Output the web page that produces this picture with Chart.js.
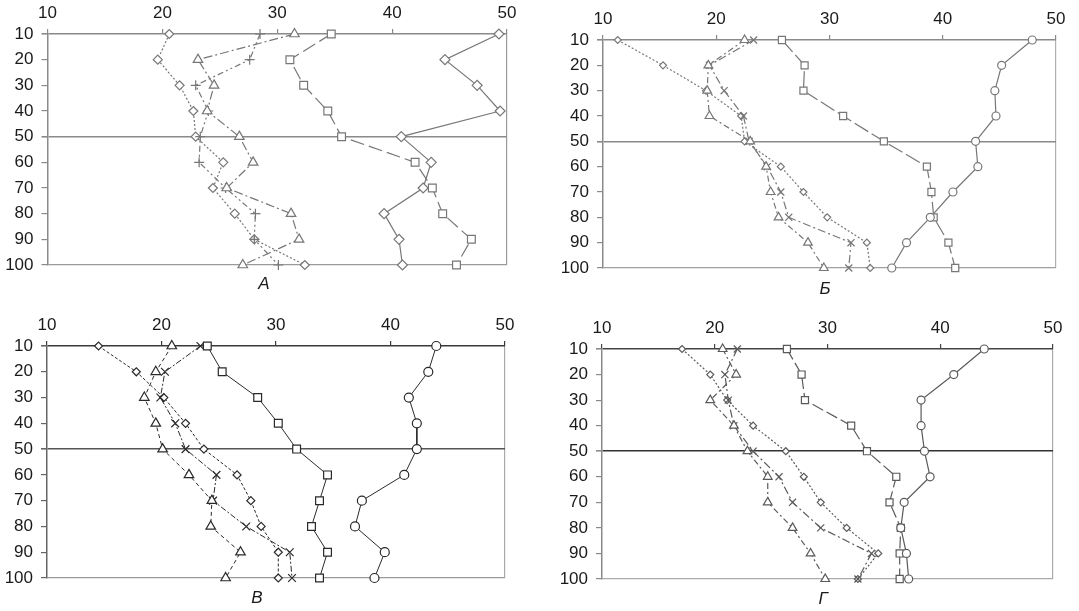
<!DOCTYPE html>
<html>
<head>
<meta charset="utf-8">
<script src="https://cdn.jsdelivr.net/npm/chart.js@4.4.1/dist/chart.umd.min.js"></script>
<style>
    html, body { margin: 0; padding: 0; background: #fff; width: 1079px; height: 611px; overflow: hidden; position: relative; }
    canvas { position: absolute; }
    .letter { position: absolute; width: 40px; text-align: center; line-height: 20px;
              font: italic 17px 'Liberation Sans', Arial, sans-serif; color: #1a1a1a; }
</style>
</head>
<body>
<canvas id="chartA"></canvas>
<canvas id="chartB"></canvas>
<canvas id="chartV"></canvas>
<canvas id="chartG"></canvas>
<script>
// глубина (ось Y, сверху вниз) и подписи оси X
const depths = [10, 20, 30, 40, 50, 60, 70, 80, 90, 100];
const xTicks = [10, 20, 30, 40, 50];

// Панель А
const aSolid    = [49.3, 44.6, 47.4, 49.4, 40.8, 43.4, 42.7, 39.3, 40.6, 40.9];
const aSquare   = [34.7, 31.1, 32.3, 34.4, 35.6, 42.0, 43.5, 44.4, 46.9, 45.6];
const aTriangle = [31.5, 23.1, 24.5, 23.9, 26.7, 27.9, 25.6, 31.2, 31.9, 27.0];
const aCross    = [28.5, 27.6, 22.9, 24.0, 23.3, 23.2, 25.5, 28.1, 28.0, 30.1];
const aDiamond  = [20.6, 19.6, 21.5, 22.7, 22.9, 25.3, 24.4, 26.3, 28.0, 32.4];

// Панель Б
const bSolid    = [47.9, 45.2, 44.6, 44.7, 42.9, 43.1, 40.9, 38.9, 36.8, 35.5];
const bSquare   = [25.8, 27.8, 27.7, 31.2, 34.8, 38.6, 39.0, 39.2, 40.5, 41.1];
const bTriangle = [22.5, 19.3, 19.2, 19.4, 23.0, 24.4, 24.8, 25.5, 28.1, 29.5];
const bCross    = [23.3, 19.4, 20.7, 22.4, 22.9, 24.5, 25.7, 26.4, 31.9, 31.7];
const bDiamond  = [11.3, 15.3, 19.1, 22.2, 22.5, 25.7, 27.7, 29.8, 33.3, 33.6];

// Панель В
const vSolid    = [44.0, 43.3, 41.6, 42.3, 42.3, 41.2, 37.5, 36.9, 39.5, 38.6];
const vSquare   = [24.0, 25.3, 28.4, 30.2, 31.8, 34.5, 33.8, 33.1, 34.5, 33.8];
const vTriangle = [20.9, 19.5, 18.5, 19.5, 20.1, 22.4, 24.4, 24.3, 26.9, 25.6];
const vCross    = [23.4, 20.3, 19.9, 21.2, 22.1, 24.8, 24.5, 27.4, 31.2, 31.4];
const vDiamond  = [14.5, 17.8, 20.2, 22.1, 23.7, 26.6, 27.8, 28.7, 30.2, 30.2];

// Панель Г
const gSolid    = [43.9, 41.2, 38.3, 38.3, 38.6, 39.1, 36.8, 36.5, 37.0, 37.2];
const gSquare   = [26.4, 27.7, 28.0, 32.1, 33.5, 36.1, 35.5, 36.5, 36.4, 36.4];
const gTriangle = [20.7, 21.9, 19.6, 21.7, 22.9, 24.7, 24.7, 26.9, 28.5, 29.8];
const gCross    = [22.0, 20.9, 21.2, 21.7, 23.4, 25.7, 26.9, 29.4, 33.9, 32.7];
const gDiamond  = [17.1, 19.6, 21.1, 23.4, 26.3, 27.9, 29.4, 31.7, 34.5, 32.7];

const FONT = "'Liberation Sans', Arial, sans-serif";
const NONE = 'rgba(0,0,0,0)';

const panels = [
    {
        canvas: 'chartA', letter: 'А', letterAt: [264, 284],
        box: { left: 0, top: 0, width: 540, height: 280 },
        plot: { left: 47.5, right: 507, top: 34, bottom: 265 },
        values: [aSolid, aSquare, aTriangle, aCross, aDiamond],
        markers: ['rectRot', 'rect', 'triangle', 'cross', 'rectRot'],
        radii: [5, 5.5, 5.5, 5, 4.5],
        dashes: [[], [14, 5], [9, 3, 2, 3], [6, 3, 2, 3, 2, 3], [2, 2]],
        ink: '#777777', lineWidth: 1.2,
        frame: { top: '#8a8a8a', mid: '#8a8a8a', bottom: '#9a9a9a', left: '#8a8a8a', right: '#9a9a9a' }
    },
    {
        canvas: 'chartB', letter: 'Б', letterAt: [825, 289],
        box: { left: 540, top: 0, width: 539, height: 284 },
        plot: { left: 603, right: 1056, top: 40, bottom: 268 },
        values: [bSolid, bSquare, bTriangle, bCross, bDiamond],
        markers: ['circle', 'rect', 'triangle', 'crossRot', 'rectRot'],
        radii: [4, 5, 5, 5, 3.5],
        dashes: [[], [16, 4], [6, 3, 2, 3], [8, 3, 2, 3], [2, 2]],
        ink: '#777777', lineWidth: 1.2,
        frame: { top: '#8a8a8a', mid: '#8a8a8a', bottom: '#a0a0a0', left: '#8a8a8a', right: '#b0b0b0' }
    },
    {
        canvas: 'chartV', letter: 'В', letterAt: [257, 598],
        box: { left: 0, top: 300, width: 540, height: 294 },
        plot: { left: 47, right: 505, top: 346, bottom: 578 },
        values: [vSolid, vSquare, vTriangle, vCross, vDiamond],
        markers: ['circle', 'rect', 'triangle', 'crossRot', 'rectRot'],
        radii: [4.5, 5.5, 5.5, 5.5, 4],
        dashes: [[], [], [4, 3], [6, 2, 2, 2], [3, 2]],
        ink: '#2a2a2a', lineWidth: 1,
        frame: { top: '#3a3a3a', mid: '#555555', bottom: '#9a9a9a', left: '#666666', right: '#aaaaaa' }
    },
    {
        canvas: 'chartG', letter: 'Г', letterAt: [823, 599],
        box: { left: 540, top: 300, width: 539, height: 294 },
        plot: { left: 602, right: 1053, top: 349, bottom: 579 },
        values: [gSolid, gSquare, gTriangle, gCross, gDiamond],
        markers: ['circle', 'rect', 'triangle', 'crossRot', 'rectRot'],
        radii: [4, 5, 5, 5, 3.5],
        dashes: [[], [12, 4], [6, 3, 2, 3], [8, 3, 2, 3], [2, 2]],
        ink: '#5a5a5a', lineWidth: 1.2,
        frame: { top: '#444444', mid: '#333333', bottom: '#aaaaaa', left: '#8a8a8a', right: '#aaaaaa' }
    }
];

// убираем авто-отступы под подписи, чтобы область графика стояла там, где нужно
function zeroPad(scale) {
    scale.paddingLeft = 0;
    scale.paddingRight = 0;
    scale.paddingTop = 0;
    scale.paddingBottom = 0;
}

function drawPanel(p) {
    const el = document.getElementById(p.canvas);
    el.width = p.box.width;
    el.height = p.box.height;
    el.style.left = p.box.left + 'px';
    el.style.top = p.box.top + 'px';

    const yAxisWidth = p.plot.left - p.box.left;
    const xAxisHeight = p.plot.top - p.box.top;

    const datasets = p.values.map((vals, i) => ({
        data: depths.map((d, k) => ({ x: vals[k], y: d })),
        showLine: true,
        borderColor: p.ink,
        borderWidth: p.lineWidth,
        borderDash: p.dashes[i],
        tension: 0,
        pointStyle: p.markers[i],
        pointRadius: p.radii[i],
        pointBorderColor: p.ink,
        pointBorderWidth: 1.2,
        pointBackgroundColor: '#ffffff',
        clip: false
    }));

    new Chart(el, {
        type: 'scatter',
        data: { datasets },
        options: {
            responsive: false,
            animation: false,
            events: [],
            layout: {
                padding: {
                    left: 0, top: 0,
                    right: p.box.left + p.box.width - p.plot.right,
                    bottom: p.box.top + p.box.height - p.plot.bottom
                }
            },
            plugins: { legend: { display: false }, tooltip: { enabled: false } },
            scales: {
                x: {
                    type: 'linear', position: 'top', min: 10, max: 50,
                    afterBuildTicks: s => { s.ticks = xTicks.map(v => ({ value: v })); },
                    afterFit: s => { s.height = xAxisHeight; zeroPad(s); },
                    border: { display: false },
                    grid: {
                        color: c => (c.tick && c.tick.value === 50) ? p.frame.right : NONE,
                        tickColor: p.frame.top,
                        lineWidth: 1.2,
                        tickLength: 5
                    },
                    ticks: { font: { family: FONT, size: 17 }, color: '#1a1a1a', padding: 5, maxRotation: 0, autoSkip: false }
                },
                y: {
                    type: 'linear', position: 'left', min: 10, max: 100, reverse: true,
                    afterBuildTicks: s => { s.ticks = depths.map(v => ({ value: v })); },
                    afterFit: s => { s.width = yAxisWidth; zeroPad(s); },
                    border: { display: true, color: p.frame.left, width: 1.5 },
                    grid: {
                        color: c => {
                            const v = c.tick && c.tick.value;
                            if (v === 10) return p.frame.top;
                            if (v === 50) return p.frame.mid;
                            if (v === 100) return p.frame.bottom;
                            return NONE;
                        },
                        lineWidth: c => (c.tick && (c.tick.value === 10 || c.tick.value === 50)) ? 1.6 : 1.2,
                        tickColor: p.frame.left,
                        tickLength: 6
                    },
                    ticks: { font: { family: FONT, size: 17 }, color: '#1a1a1a', padding: 8, autoSkip: false }
                }
            }
        }
    });

    const lbl = document.createElement('div');
    lbl.className = 'letter';
    lbl.textContent = p.letter;
    lbl.style.left = (p.letterAt[0] - 20) + 'px';
    lbl.style.top = (p.letterAt[1] - 10) + 'px';
    document.body.appendChild(lbl);
}

panels.forEach(drawPanel);
</script>
</body>
</html>
